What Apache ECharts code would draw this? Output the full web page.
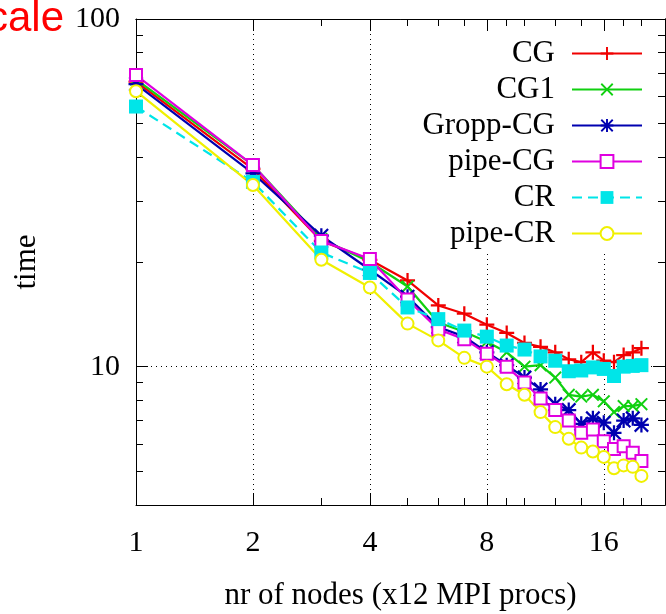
<!DOCTYPE html>
<html>
<head>
<meta charset="utf-8">
<script src="https://cdn.jsdelivr.net/npm/echarts@6/dist/echarts.min.js"></script>
<style>html,body{margin:0;background:#fff}#chart{width:666px;height:614px}</style>
</head>
<body>
<div id="chart"></div>
<script>
var myChart = echarts.init(document.getElementById('chart'));

// data (time per solve, log-log)
var nodes = [1, 2, 3, 4, 5, 6, 7, 8, 9, 10, 11, 12, 13, 14, 15, 16, 17, 18, 19, 20];
var cg     = [66, 37, 23, 20.3, 17.7, 15.0, 14.2, 13.2, 12.5, 11.7, 11.4, 11.0, 10.5, 10.3, 11.0, 10.4, 10.3, 10.8, 11.0, 11.3];
var cg1    = [67, 38, 23.3, 20.0, 17.0, 13.4, 12.6, 11.8, 11.0, 10.0, 10.1, 9.3, 8.3, 8.2, 8.3, 7.95, 7.4, 7.7, 7.7, 7.8];
var gropp  = [65, 36, 23.8, 19.0, 15.9, 13.0, 12.2, 11.0, 10.1, 9.3, 8.6, 7.8, 7.5, 6.85, 7.1, 6.9, 6.45, 7.0, 7.1, 6.8];
var pipeCG = [69, 38, 23.0, 20.4, 15.6, 12.8, 12.0, 10.9, 10.0, 9.0, 8.1, 7.5, 7.0, 6.45, 6.6, 6.1, 5.8, 5.9, 5.65, 5.35];
var cr     = [56, 34, 21.3, 18.6, 14.8, 13.7, 12.7, 12.2, 11.5, 11.2, 10.7, 10.4, 9.7, 9.75, 9.95, 9.85, 9.4, 10.0, 10.05, 10.1];
var pipeCR = [62, 33.3, 20.3, 16.9, 13.3, 11.9, 10.6, 10.0, 8.9, 8.3, 7.4, 6.7, 6.2, 5.85, 5.7, 5.5, 5.1, 5.2, 5.15, 4.85];

var xMajor = [1, 2, 4, 8, 16];
var xMinor = [3, 5, 6, 7, 9, 10, 12, 14, 18, 20];
var yMajor = [10, 100];
var yMinor = [5, 6, 7, 8, 9, 20, 30, 40, 50, 60, 70, 80, 90];

var serif = 'Liberation Serif';

var plus = 'path://M8.5,0h3v8.5h8.5v3h-8.5v8.5h-3v-8.5h-8.5v-3h8.5z';
var cross = 'path://M2.1,0L10,7.9L17.9,0L20,2.1L12.1,10L20,17.9L17.9,20L10,12.1L2.1,20L0,17.9L7.9,10L0,2.1Z';
var star = 'path://M8.5,0h3v8.5h8.5v3h-8.5v8.5h-3v-8.5h-8.5v-3h8.5z' +
  'M2.1,0L10,7.9L17.9,0L20,2.1L12.1,10L20,17.9L17.9,20L10,12.1L2.1,20L0,17.9L7.9,10L0,2.1Z';

function pairs(vals) {
  return nodes.map(function (n, i) { return [n, vals[i]]; });
}

// one axis = one tick set; major and minor ticks overlap on the same side
function xAx(pos, ticks, len, main) {
  return {
    type: 'log', logBase: 2, min: 1, max: 23, position: pos,
    axisLine: { show: main || pos === 'top', lineStyle: { color: '#000', width: 1 } },
    axisTick: { show: true, inside: true, length: len, customValues: ticks, lineStyle: { color: '#000' } },
    axisLabel: { show: !!main, customValues: ticks, margin: 23, color: '#000', fontFamily: serif, fontSize: 30 },
    splitLine: { show: !!main, lineStyle: { color: '#000', type: [1, 4], width: 1 } },
    name: main ? 'nr of nodes (x12 MPI procs)' : '',
    nameLocation: 'middle', nameGap: 75,
    nameTextStyle: { color: '#000', fontFamily: serif, fontSize: 31 }
  };
}
function yAx(pos, ticks, len, main) {
  return {
    type: 'log', logBase: 10, min: 4, max: 100, position: pos,
    axisLine: { show: main || pos === 'right', lineStyle: { color: '#000', width: 1 } },
    axisTick: { show: true, inside: true, length: len, customValues: ticks, lineStyle: { color: '#000' } },
    axisLabel: { show: !!main, customValues: ticks, margin: 16, color: '#000', fontFamily: serif, fontSize: 30 },
    splitLine: { show: !!main, lineStyle: { color: '#000', type: [1, 4], width: 1 } },
    name: main ? 'time' : '',
    nameLocation: 'middle', nameGap: 94,
    nameTextStyle: { color: '#000', fontFamily: serif, fontSize: 31 }
  };
}

function line(name, vals, color, symbol, size, dash) {
  return {
    name: name, type: 'line', data: pairs(vals),
    symbol: symbol, symbolSize: size,
    color: color,
    lineStyle: { color: color, width: 2.2, type: dash || 'solid' },
    itemStyle: { color: color, borderWidth: 1.8 }
  };
}

var option = {
  animation: false,
  backgroundColor: '#fff',
  graphic: [{
    type: 'text', x: 64, y: -2,
    style: { text: 'cale', fill: '#ff0000', font: '42px "Liberation Sans"', textAlign: 'right', textVerticalAlign: 'top' }
  }],
  grid: { left: 136, right: 1, top: 19, bottom: 109, outerBoundsMode: 'none' },
  legend: {
    orient: 'vertical', align: 'right', right: 18, top: 33,
    padding: [5, 5, 5, 5], backgroundColor: '#fff',
    itemWidth: 70, itemHeight: 16, itemGap: 5,
    textStyle: { color: '#000', fontFamily: serif, fontSize: 31, lineHeight: 30, padding: [0, 12, 0, 0] },
    data: ['CG', 'CG1', 'Gropp-CG', 'pipe-CG', 'CR', 'pipe-CR']
  },
  xAxis: [xAx('bottom', xMajor, 12, true), xAx('bottom', xMinor, 7), xAx('top', xMajor, 12), xAx('top', xMinor, 7)],
  yAxis: [yAx('left', yMajor, 12, true), yAx('left', yMinor, 7), yAx('right', yMajor, 12), yAx('right', yMinor, 7)],
  series: [
    line('CG', cg, '#f00000', plus, 15),
    line('CG1', cg1, '#10d010', cross, 13),
    line('Gropp-CG', gropp, '#0000b0', star, 15),
    line('pipe-CG', pipeCG, '#e000e0', 'emptyRect', 12),
    line('CR', cr, '#00e5e8', 'rect', 14, [10, 6]),
    line('pipe-CR', pipeCR, '#f0f000', 'emptyCircle', 12)
  ]
};

myChart.setOption(option);
</script>
</body>
</html>
